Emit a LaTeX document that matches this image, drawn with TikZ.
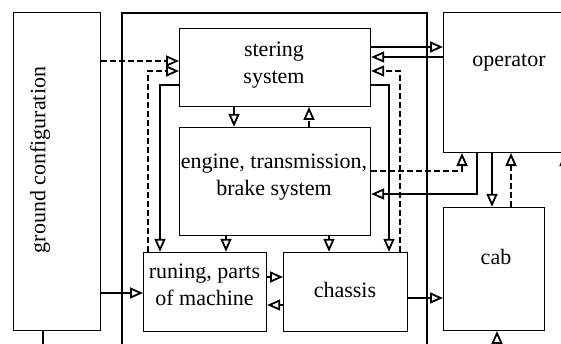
\documentclass[tikz,border=0pt]{standalone}
\usepackage{fontspec}
\setmainfont{Liberation Serif}
\usetikzlibrary{arrows.meta}
\begin{document}
\begin{tikzpicture}[x=1pt,y=1pt,
  blk/.style={draw,line width=1.2pt,inner sep=0pt,anchor=south west},
  txt/.style={font=\fontsize{22}{27}\selectfont,align=center,inner sep=0pt},
  con/.style={line width=1.3pt,-{Triangle[open,length=13pt,width=11pt,line width=1.8pt]}},
  dcon/.style={con,dash pattern=on 6pt off 3pt}]
  \clip (0,0) rectangle (561,343);
  % Blocks
  \node[blk,minimum width=87pt,minimum height=318pt] (ground) at (13,12) {};
  \node[blk,minimum width=191pt,minimum height=78pt] (steer) at (179,236) {};
  \node[blk,minimum width=191pt,minimum height=108pt] (engine) at (179,107) {};
  \node[blk,minimum width=123pt,minimum height=79pt] (run) at (143,11) {};
  \node[blk,minimum width=124pt,minimum height=79pt] (chassis) at (283,11) {};
  \node[blk,minimum width=140pt,minimum height=140pt] (operator) at (443,190) {};
  \node[blk,minimum width=101pt,minimum height=123pt] (cab) at (443,12) {};
  % Machine frame
  \draw[line width=1.2pt] (122,-5) |- (427,330) -- (427,-5);
  % Texts
  \node[txt,rotate=90] (groundtxt) at (40,183) {ground configuration};
  \node[txt] (steertxt) at (274,278) {stering\\system};
  \node[txt] (enginetxt) at (274,166) {engine, transmission,\\brake system};
  \node[txt] (runtxt) at (204.5,58) {runing, parts\\of machine};
  \node[txt] (chassistxt) at (345,53) {chassis};
  \node[txt] (optxt) at (509,280) {operator};
  \node[txt] (cabtxt) at (496,86) {cab};
  % Links to the stering system
  \draw[dcon] (ground.east |- 0,282) -- (steer.west |- 0,282);
  \draw[dcon] (run.north -| 148,0) |- (steer.west |- 0,272);
  \draw[con] (steer.west |- 0,258) -| (run.north -| 160,0);
  \draw[con] (steer.south -| 234,0) -- (engine.north -| 234,0);
  \draw[dcon] (engine.north -| 309,0) -- (steer.south -| 309,0);
  \draw[con] (steer.east |- 0,258) -| (chassis.north -| 389,0);
  \draw[dcon] (chassis.north -| 400,0) |- (steer.east |- 0,272);
  \draw[con] (steer.east |- 0,296) -- (operator.west |- 0,296);
  \draw[con] (operator.west |- 0,286) -- (steer.east |- 0,286);
  % Engine links
  \draw[con] (engine.south -| 226,0) -- (run.north -| 226,0);
  \draw[con] (engine.south -| 329,0) -- (chassis.north -| 329,0);
  \draw[dcon] (engine.east |- 0,172) -| (operator.south -| 462,0);
  \draw[con] (operator.south -| 477,0) |- (engine.east |- 0,149);
  % Operator and cab
  \draw[con] (operator.south -| 492,0) -- (cab.north -| 492,0);
  \draw[dcon] (cab.north -| 511,0) -- (operator.south -| 511,0);
  \coordinate (opin) at (565,120);
  \draw[con] (opin) -- (operator.south -| opin);
  \coordinate (cabin) at (497,-5);
  \draw[con] (cabin) -- (cab.south -| cabin);
  % Lower row
  \draw[con] (ground.east |- 0,50) -- (run.west |- 0,50);
  \draw[con] (run.east |- 0,66) -- (chassis.west |- 0,66);
  \draw[dcon] (chassis.west |- 0,38) -- (run.east |- 0,38);
  \draw[con] (chassis.east |- 0,45) -- (cab.west |- 0,45);
  \coordinate (groundout) at (43,-5);
  \draw[line width=1.2pt] (ground.south -| groundout) -- (groundout);
\end{tikzpicture}
\end{document}
